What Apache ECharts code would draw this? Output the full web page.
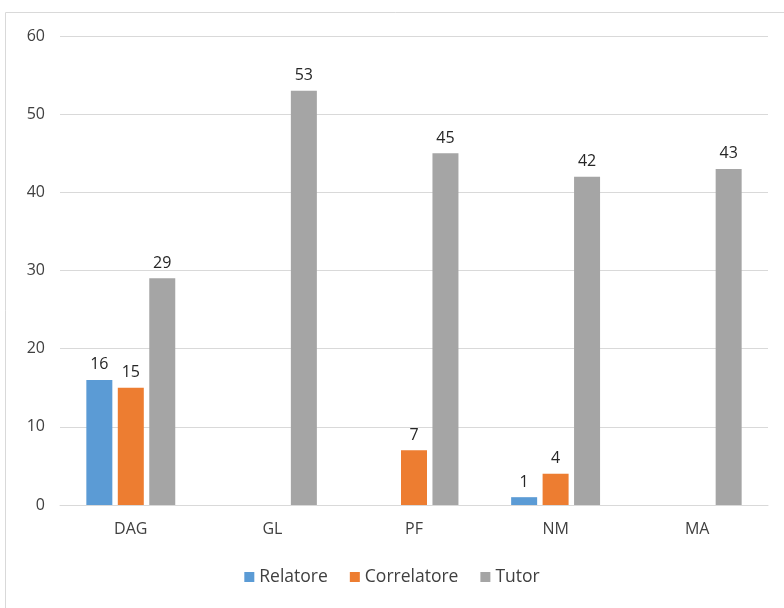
<!DOCTYPE html>
<html>
<head>
<meta charset="utf-8">
<script src="https://cdn.jsdelivr.net/npm/echarts@6/dist/echarts.min.js"></script>
<style>html,body{margin:0;padding:0;background:#fff;}#c{width:784px;height:608px;}</style>
</head>
<body>
<div id="c"></div>
<script>
var categories = ['DAG', 'GL', 'PF', 'NM', 'MA'];
var relatore = [16, null, null, 1, null];
var correlatore = [15, null, 7, 4, null];
var tutor = [29, 53, 45, 42, 43];
var yTicks = { min: 0, max: 60, interval: 10 };

var font = '"Open Sans", "Noto Sans", sans-serif';
var labelCfg = { show: true, position: 'top', color: '#262626', fontSize: 16, fontFamily: font, distance: 7 };
function mk(name, data, color) {
  return {
    name: name, type: 'bar', data: data, barWidth: 26, barGap: '21%',
    itemStyle: { color: color }, label: labelCfg
  };
}
var chart = echarts.init(document.getElementById('c'));
chart.setOption({
  animation: false,
  graphic: [{ type: 'rect', z: -10, shape: { x: 5.5, y: 12.5, width: 800, height: 600 }, style: { fill: 'none', stroke: '#d9d9d9', lineWidth: 1 } }],
  grid: { left: 60, right: 16, top: 36, bottom: 103 },
  legend: {
    bottom: 17, left: 'center', itemWidth: 10, itemHeight: 10, itemGap: 22, icon: 'rect',
    textStyle: { color: '#404040', fontSize: 17.5, fontFamily: font }
  },
  xAxis: {
    type: 'category', data: categories,
    axisLine: { lineStyle: { color: '#d9d9d9', width: 1 } }, axisTick: { show: false },
    axisLabel: { color: '#404040', fontSize: 16, fontFamily: font, margin: 16 }
  },
  yAxis: {
    type: 'value', min: yTicks.min, max: yTicks.max, interval: yTicks.interval,
    axisLine: { show: false }, axisTick: { show: false },
    splitLine: { lineStyle: { color: '#d9d9d9', width: 1 } },
    axisLabel: { color: '#404040', fontSize: 16, fontFamily: font, margin: 15 }
  },
  series: [
    mk('Relatore', relatore, '#5B9BD5'),
    mk('Correlatore', correlatore, '#ED7D31'),
    mk('Tutor', tutor, '#A5A5A5')
  ]
});
</script>
</body>
</html>
